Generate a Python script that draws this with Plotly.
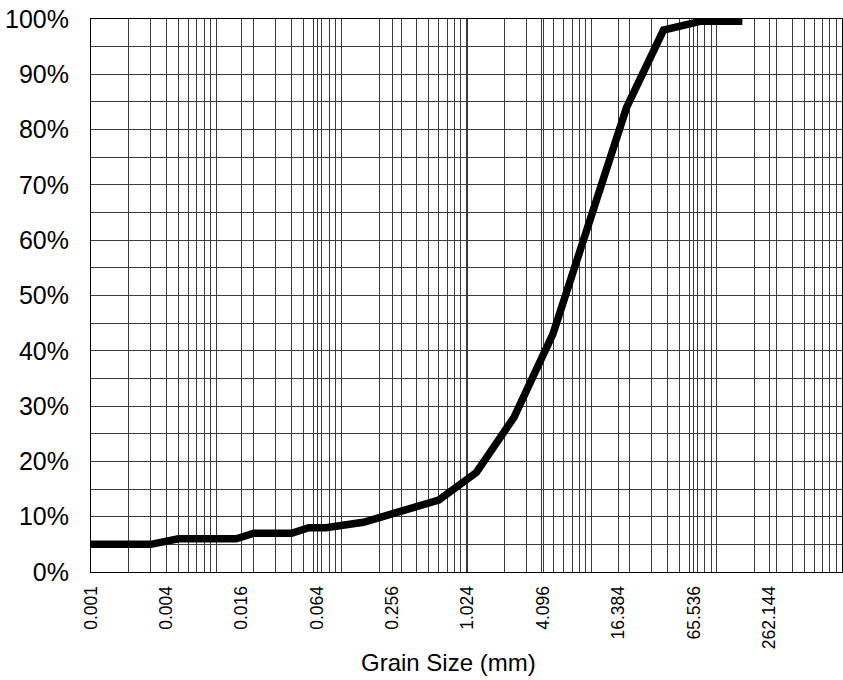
import plotly.graph_objects as go

# ---- data ----
grain_size_mm = [0.001, 0.003, 0.005, 0.0145, 0.02, 0.04, 0.055, 0.075, 0.15, 0.3,
                 0.6, 1.2, 2.4, 4.9, 9.5, 19, 37.5, 75, 160]
percent_passing = [5, 5, 6, 6, 7, 7, 8, 8, 9, 11,
                   13, 18, 28, 43, 63, 84, 98, 99.6, 99.6]

x_tick_labels = ["0.001", "0.004", "0.016", "0.064", "0.256", "1.024",
                 "4.096", "16.384", "65.536", "262.144"]
y_tick_values = [0, 10, 20, 30, 40, 50, 60, 70, 80, 90, 100]
y_tick_labels = ["0%", "10%", "20%", "30%", "40%", "50%", "60%", "70%", "80%", "90%", "100%"]

x_tick_values = [float(t) for t in x_tick_labels]
# log-decade minor grid (1..9 x 10^k)
x_minor_values = [m * 10.0 ** e for e in range(-3, 3) for m in range(1, 10)] + [1000.0]

GRID = "#3a3a3a"
FONT = "Liberation Sans, Arial, Helvetica, sans-serif"

fig = go.Figure()
fig.add_trace(go.Scatter(
    x=grain_size_mm, y=percent_passing, mode="lines",
    line=dict(color="black", width=7.5),
    showlegend=False, hoverinfo="skip",
))

fig.update_layout(
    width=843, height=680,
    margin=dict(l=91, r=1, t=19, b=108),
    paper_bgcolor="white", plot_bgcolor="white",
    font=dict(family=FONT, color="black"),
    xaxis=dict(
        type="log", range=[-3, 3],
        tickvals=x_tick_values, ticktext=x_tick_labels,
        tickangle=-90, tickfont=dict(size=17.5, family=FONT, color="black"),
        showgrid=True, gridcolor=GRID, gridwidth=1,
        minor=dict(tickvals=x_minor_values, showgrid=True, gridcolor=GRID, gridwidth=1, ticks=""),
        ticks="", ticklabelstandoff=6,
        showline=True, linecolor="black", linewidth=1, mirror=True,
        zeroline=False,
    ),
    yaxis=dict(
        range=[0, 100],
        tickvals=y_tick_values, ticktext=y_tick_labels,
        tickfont=dict(size=25, family=FONT, color="black"),
        showgrid=True, gridcolor=GRID, gridwidth=1,
        minor=dict(dtick=5, tick0=0, showgrid=True, gridcolor=GRID, gridwidth=1, ticks=""),
        ticks="", ticklabelstandoff=16,
        showline=True, linecolor="black", linewidth=1, mirror=True,
        zeroline=False,
    ),
    annotations=[dict(
        text="Grain Size (mm)", xref="paper", yref="paper",
        x=0.476, y=-0.163, xanchor="center", yanchor="middle",
        showarrow=False, font=dict(size=24, family=FONT, color="black"),
    )],
)

fig.write_html(
    "out.html",
    config={"displayModeBar": False},
    post_script="document.body.style.margin='0';document.body.style.overflow='hidden';",
)
